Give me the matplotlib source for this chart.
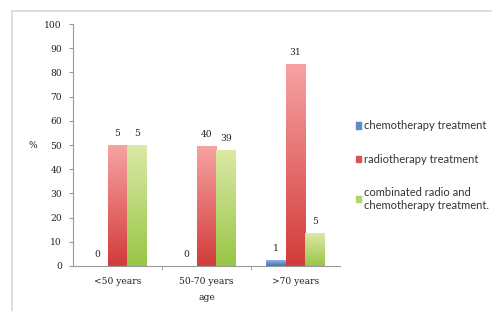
import numpy as np
import matplotlib
matplotlib.use("Agg")
import matplotlib.pyplot as plt
from matplotlib.colors import LinearSegmentedColormap
from matplotlib.lines import Line2D
from matplotlib.patches import Patch

categories = ["<50 years", "50-70 years", ">70 years"]
series_names = ["chemotherapy treatment", "radiotherapy treatment",
                "combinated radio and\nchemotherapy treatment."]
chemo = [0, 0, 2.5]
radio = [50, 49.5, 83.5]
combined = [50, 48, 13.5]
chemo_labels = ["0", "0", "1"]
radio_labels = ["5", "40", "31"]
combined_labels = ["5", "39", "5"]

values = [chemo, radio, combined]
labels = [chemo_labels, radio_labels, combined_labels]
# (top colour, bottom colour) of each gradient
grads = [("#9dbbe6", "#3f73c0"), ("#f7a2a2", "#d23c3a"), ("#dce9a6", "#98c646")]
legend_cols = ["#5b8bd0", "#dc5452", "#b2d66a"]

plt.rcParams['font.family'] = ['DejaVu Serif']
fig = plt.figure(figsize=(4.92, 3.11), dpi=100)
ax = fig.add_axes([0.1484, 0.1447, 0.5427, 0.7781])

x = np.arange(len(categories))
w = 0.222
for i, (vals, labs, (c_top, c_bot)) in enumerate(zip(values, labels, grads)):
    pos = x + (i - 1) * w
    bars = ax.bar(pos, vals, w, color="none", edgecolor="none", zorder=2)
    cmap = LinearSegmentedColormap.from_list("g%d" % i, [c_bot, c_top])
    for b, lab in zip(bars, labs):
        h = b.get_height()
        if h > 0:
            im = ax.imshow(np.linspace(0, 1, 100).reshape(-1, 1), cmap=cmap,
                           origin="lower", aspect="auto", zorder=2,
                           extent=[b.get_x(), b.get_x() + b.get_width(), 0, h])
            im.set_clip_path(b)
        ax.text(b.get_x() + b.get_width() / 2, h + 3, lab, ha="center",
                va="bottom", fontsize=6.6, color="#222222")

ax.set_xlim(-0.5, 2.5)
ax.set_ylim(0, 100)
ax.set_yticks(range(0, 101, 10))
ax.set_xticks(x)
ax.set_xticklabels(categories)
ax.set_xticks([0.5, 1.5], minor=True)
ax.tick_params(axis="x", which="major", length=0, pad=8, labelsize=6.6,
               labelcolor="#222222")
ax.tick_params(axis="x", which="minor", length=3, color="#999999")
ax.tick_params(axis="y", length=3, color="#999999", labelsize=6.6, pad=5,
               labelcolor="#222222")
for s in ["top", "right"]:
    ax.spines[s].set_visible(False)
for s in ["left", "bottom"]:
    ax.spines[s].set_color("#999999")
    ax.spines[s].set_linewidth(0.8)
ax.set_xlabel("age", fontsize=6.6, labelpad=5, color="#222222")
ax.set_ylabel("%", fontsize=6.6, rotation=0, va="center", color="#222222")
ax.yaxis.set_label_coords(-0.152, 0.5)

handles = [Patch(color=c) for c in legend_cols]
leg = fig.legend(handles, series_names, loc="upper left",
                 bbox_to_anchor=(0.703, 0.645), frameon=False,
                 prop={"family": "Lato", "size": 8.0}, handlelength=0.5,
                 handleheight=0.5, handletextpad=0.25, labelspacing=2.0)
for t in leg.get_texts():
    t.set_color("#333333")

fig.add_artist(Line2D([0.024, 0.998], [0.965, 0.965], color="#d8d8d8", lw=1.2))
fig.add_artist(Line2D([0.024, 0.024], [0.0, 0.965], color="#d8d8d8", lw=1.2))

fig.savefig("out.png", dpi=100)
